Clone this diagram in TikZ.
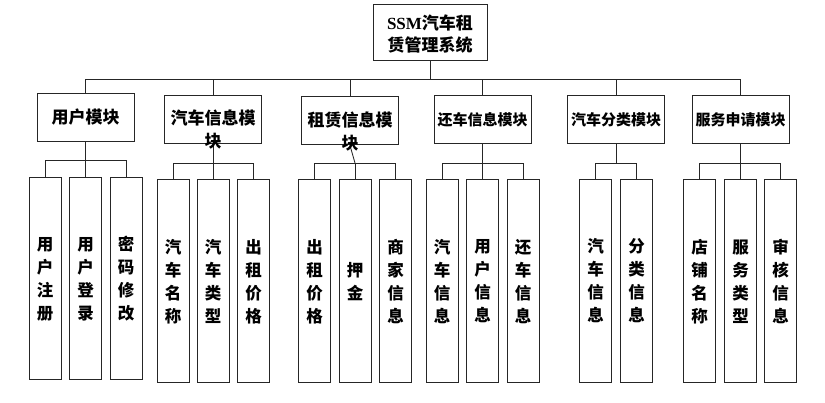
\documentclass[tikz,border=0pt]{standalone}
\usepackage{fontspec}
\setmainfont{Liberation Serif}
\newfontfamily\cjk{Noto Sans CJK SC}
\begin{document}
\begin{tikzpicture}[x=1pt,y=-1pt,
  box/.style={draw=black!85, line width=1pt, inner sep=0pt, fill=white},
  leaf/.style={box, minimum width=32pt, minimum height=203pt, align=center,
    font=\cjk\bfseries\fontsize{16.5}{23}\selectfont},
  mod/.style={box, minimum width=97pt, minimum height=48pt},
  modtext/.style={inner sep=0pt, align=center, font=\cjk\bfseries\fontsize{17}{23}\selectfont},
  modtexts/.style={inner sep=0pt, align=center, font=\cjk\bfseries\fontsize{15}{23}\selectfont},
  conn/.style={draw=black!85, line width=0.85pt}]
\useasboundingbox (0,0) rectangle (825,403);

% root
\node[box, minimum width=114pt, minimum height=56pt] (root) at (430,33) {};
\node[inner sep=0pt, align=center, font=\fontsize{17}{22}\selectfont] (roottext) at (430,34)
  {{\bfseries SSM}{\cjk\bfseries 汽车租}\\{\cjk\bfseries 赁管理系统}};

% modules
\node[mod] (m1) at (85.5,117.5) {};
\node[mod] (m2) at (213,120) {};
\node[mod] (m3) at (350,121) {};
\node[mod] (m4) at (482.5,120) {};
\node[mod] (m5) at (616,120) {};
\node[mod] (m6) at (740.5,120) {};

% bus level 1
\coordinate (b0) at (430,79);
\draw[conn] (root.south) -- (b0);
\draw[conn] (m1.north |- b0) -- (m6.north |- b0);
\foreach \m in {m1,m2,m3,m4,m5,m6} \draw[conn] (\m.north) -- (\m.north |- b0);

% leaves
\node[leaf, minimum height=202pt] (u1) at (45,279) {用\\户\\注\\册};
\node[leaf, minimum height=202pt] (u2) at (85.5,279) {用\\户\\登\\录};
\node[leaf, minimum height=202pt] (u3) at (126,279) {密\\码\\修\\改};

\node[leaf] (c1) at (173,281.5) {汽\\车\\名\\称};
\node[leaf] (c2) at (213,281.5) {汽\\车\\类\\型};
\node[leaf] (c3) at (253.5,281.5) {出\\租\\价\\格};

\node[leaf] (r1) at (314.5,281.5) {出\\租\\价\\格};
\node[leaf] (r2) at (355,281.5) {押\\金};
\node[leaf] (r3) at (395.5,281.5) {商\\家\\信\\息};

\node[leaf] (h1) at (442,281.5) {汽\\车\\信\\息};
\node[leaf] (h2) at (482.5,281.5) {用\\户\\信\\息};
\node[leaf] (h3) at (523,281.5) {还\\车\\信\\息};

\node[leaf] (k1) at (595.5,281) {汽\\车\\信\\息};
\node[leaf] (k2) at (636.5,281) {分\\类\\信\\息};

\node[leaf] (s1) at (699.5,281.5) {店\\铺\\名\\称};
\node[leaf] (s2) at (740.5,281.5) {服\\务\\类\\型};
\node[leaf] (s3) at (780.5,281.5) {审\\核\\信\\息};

% sub buses
\coordinate (bu) at (0,160);
\coordinate (bs) at (0,163);
\draw[conn] (m1.south) -- (m1.south |- bu);
\draw[conn] (u1.north |- bu) -- (u3.north |- bu);
\foreach \l in {u1,u2,u3} \draw[conn] (\l.north) -- (\l.north |- bu);

\draw[conn] (m2.south) -- (m2.south |- bs);
\draw[conn] (c1.north |- bs) -- (c3.north |- bs);
\foreach \l in {c1,c2,c3} \draw[conn] (\l.north) -- (\l.north |- bs);

\draw[conn] (m3.south) -- (r2.north |- bs);
\draw[conn] (r1.north |- bs) -- (r3.north |- bs);
\foreach \l in {r1,r2,r3} \draw[conn] (\l.north) -- (\l.north |- bs);

\draw[conn] (m4.south) -- (m4.south |- bs);
\draw[conn] (h1.north |- bs) -- (h3.north |- bs);
\foreach \l in {h1,h2,h3} \draw[conn] (\l.north) -- (\l.north |- bs);

\draw[conn] (m5.south) -- (m5.south |- bs);
\draw[conn] (k1.north |- bs) -- (k2.north |- bs);
\foreach \l in {k1,k2} \draw[conn] (\l.north) -- (\l.north |- bs);

\draw[conn] (m6.south) -- (m6.south |- bs);
\draw[conn] (s1.north |- bs) -- (s3.north |- bs);
\foreach \l in {s1,s2,s3} \draw[conn] (\l.north) -- (\l.north |- bs);

% module texts (drawn on top, overflowing as in the original)
\node[modtext] (t1) at (m1.center) {用户模块};
\node[modtext] (t2) at (213,129.5) {汽车信息模\\块};
\node[modtext] (t3) at (350,131) {租赁信息模\\块};
\node[modtexts] (t4) at (m4.center) {还车信息模块};
\node[modtexts] (t5) at (m5.center) {汽车分类模块};
\node[modtexts] (t6) at (m6.center) {服务申请模块};
\end{tikzpicture}
\end{document}
